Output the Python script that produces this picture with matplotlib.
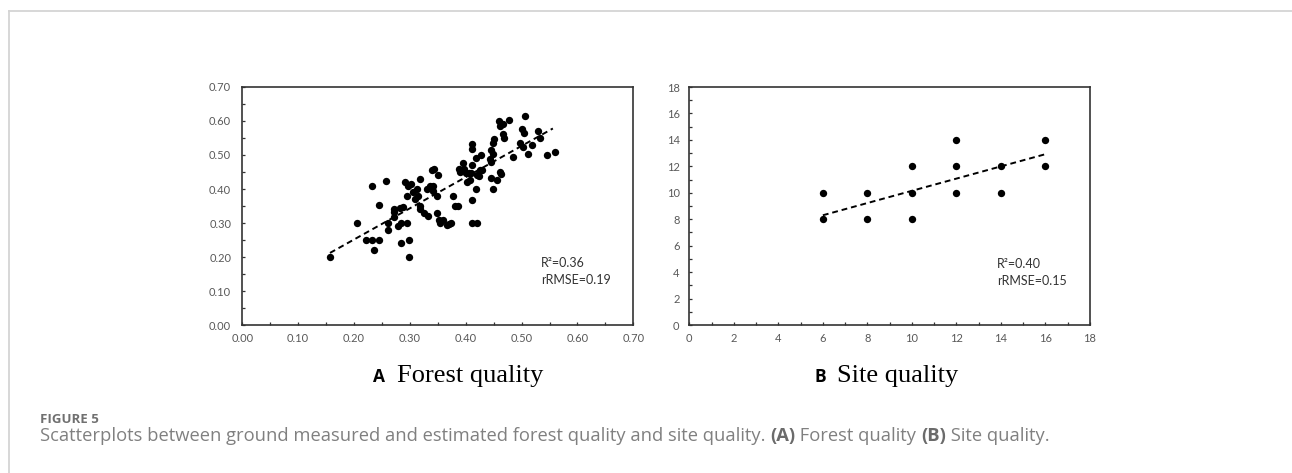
import matplotlib
matplotlib.use("Agg")
from matplotlib import pyplot as plt
from matplotlib.lines import Line2D
from matplotlib.ticker import MultipleLocator, FormatStrFormatter

# panel A: ground measured vs estimated forest quality
forest_x = [0.157, 0.205, 0.222, 0.233, 0.244, 0.235, 0.233, 0.244, 0.257, 0.260,
            0.260, 0.271, 0.272, 0.272, 0.278, 0.285, 0.295, 0.284, 0.299, 0.299,
            0.291, 0.297, 0.282, 0.288, 0.295, 0.302, 0.306, 0.309, 0.312, 0.315,
            0.318, 0.319, 0.318, 0.325, 0.333, 0.330, 0.336, 0.340, 0.343, 0.342,
            0.342, 0.348, 0.351, 0.349, 0.353, 0.354, 0.360, 0.366, 0.370, 0.373,
            0.377, 0.381, 0.387, 0.388, 0.396, 0.397, 0.390, 0.400, 0.405, 0.410,
            0.403, 0.407, 0.412, 0.411, 0.412, 0.412, 0.411, 0.421, 0.418, 0.418,
            0.420, 0.424, 0.425, 0.430, 0.428, 0.443, 0.446, 0.445, 0.449, 0.448,
            0.450, 0.446, 0.456, 0.448, 0.461, 0.463, 0.460, 0.461, 0.466, 0.467,
            0.469, 0.478, 0.484, 0.497, 0.502, 0.500, 0.504, 0.506, 0.511, 0.518,
            0.530, 0.533, 0.546, 0.560]
forest_y = [0.200, 0.300, 0.250, 0.250, 0.250, 0.220, 0.410, 0.354, 0.423, 0.300,
            0.280, 0.333, 0.318, 0.340, 0.290, 0.300, 0.300, 0.240, 0.250, 0.200,
            0.420, 0.410, 0.343, 0.348, 0.380, 0.415, 0.390, 0.370, 0.400, 0.380,
            0.350, 0.428, 0.340, 0.330, 0.320, 0.400, 0.410, 0.455, 0.458, 0.410,
            0.395, 0.380, 0.440, 0.330, 0.310, 0.300, 0.309, 0.294, 0.297, 0.300,
            0.380, 0.350, 0.350, 0.460, 0.475, 0.460, 0.450, 0.447, 0.447, 0.447,
            0.421, 0.425, 0.470, 0.519, 0.531, 0.367, 0.300, 0.300, 0.490, 0.399,
            0.440, 0.438, 0.455, 0.457, 0.500, 0.487, 0.480, 0.516, 0.502, 0.534,
            0.546, 0.431, 0.426, 0.399, 0.450, 0.444, 0.600, 0.585, 0.590, 0.563,
            0.549, 0.602, 0.495, 0.536, 0.524, 0.575, 0.565, 0.614, 0.502, 0.529,
            0.571, 0.549, 0.500, 0.510]
forest_trend_x = [0.157, 0.556]
forest_trend_y = [0.212, 0.578]

# panel B: site quality
site_x = [6, 6, 8, 8, 10, 10, 10, 12, 12, 12, 14, 14, 16, 16]
site_y = [8, 10, 8, 10, 8, 10, 12, 10, 12, 14, 10, 12, 12, 14]
site_trend_x = [6, 16]
site_trend_y = [8.3, 12.92]

stats_a = ["R\u00b2=0.36", "rRMSE=0.19"]
stats_b = ["R\u00b2=0.40", "rRMSE=0.15"]

W, H = 1292, 473
fig = plt.figure(figsize=(W / 100, H / 100), dpi=100)

tick_grey = "#595959"
axis_grey = "#333333"


def style_axes(ax, xmax, major, minor, fmt, ypad):
    ax.set_xlim(0, xmax)
    ax.set_ylim(0, xmax)
    for a in (ax.xaxis, ax.yaxis):
        a.set_major_locator(MultipleLocator(major))
        a.set_minor_locator(MultipleLocator(minor))
        a.set_major_formatter(FormatStrFormatter(fmt))
    ax.tick_params(which="both", direction="in", length=2.5, width=0.9,
                   color=axis_grey, top=False, right=False)
    ax.tick_params(axis="both", labelsize=8, labelcolor=tick_grey)
    ax.tick_params(axis="x", pad=6)
    ax.tick_params(axis="y", pad=ypad)
    for lab in ax.get_xticklabels() + ax.get_yticklabels():
        lab.set_fontfamily("Lato")
    for s in ax.spines.values():
        s.set_color(axis_grey)
        s.set_linewidth(1.2)


ax1 = fig.add_axes([242.3 / W, 148 / H, 391 / W, 238 / H])
ax1.scatter(forest_x, forest_y, s=28, color="black", zorder=3, linewidths=0)
ax1.plot(forest_trend_x, forest_trend_y, color="black", lw=1.4, dashes=(3, 2))
style_axes(ax1, 0.70, 0.10, 0.05, "%.2f", 8)
ax1.text(0.763, 0.259, stats_a[0], transform=ax1.transAxes, fontsize=9,
         family="Lato", color=axis_grey, va="center")
ax1.text(0.763, 0.189, stats_a[1], transform=ax1.transAxes, fontsize=9,
         family="Lato", color=axis_grey, va="center")

ax2 = fig.add_axes([689.3 / W, 148 / H, 400.7 / W, 238 / H])
ax2.scatter(site_x, site_y, s=28, color="black", zorder=3, linewidths=0)
ax2.plot(site_trend_x, site_trend_y, color="black", lw=1.4, dashes=(3, 2))
style_axes(ax2, 18, 2, 1, "%d", 7)
ax2.text(0.767, 0.256, stats_b[0], transform=ax2.transAxes, fontsize=9,
         family="Lato", color=axis_grey, va="center")
ax2.text(0.767, 0.186, stats_b[1], transform=ax2.transAxes, fontsize=9,
         family="Lato", color=axis_grey, va="center")

# panel captions
fig.text(373 / W, 1 - 381.5 / H, "A", fontsize=12.5, family="Open Sans",
         weight="bold", va="baseline")
fig.text(397 / W, 1 - 381.5 / H, "Forest quality", fontsize=19,
         family="Liberation Serif", va="baseline")
fig.text(815 / W, 1 - 381.5 / H, "B", fontsize=12.5, family="Open Sans",
         weight="bold", va="baseline")
fig.text(837 / W, 1 - 381.5 / H, "Site quality", fontsize=19,
         family="Liberation Serif", va="baseline")

# figure caption
fig.text(40 / W, 1 - 422.5 / H, "FIGURE 5", fontsize=9.5, family="Open Sans",
         weight="bold", color="#707070", va="baseline")
pieces = [("Scatterplots between ground measured and estimated forest quality and site quality. ", "normal"),
          ("(A)", "bold"), (" Forest quality ", "normal"), ("(B)", "bold"), (" Site quality.", "normal")]
fig.canvas.draw()
renderer = fig.canvas.get_renderer()
x = 40
for txt, wt in pieces:
    t = fig.text(x / W, 1 - 441 / H, txt, fontsize=13.2, family="Open Sans",
                 weight=wt, color="#6b6b6b" if wt == "bold" else "#808080",
                 va="baseline")
    x += t.get_window_extent(renderer).width

# page frame
fig.add_artist(Line2D([9 / W, 9 / W], [0, 1 - 11 / H], color="#d4d4d4", lw=1.3))
fig.add_artist(Line2D([9 / W, 1], [1 - 11 / H, 1 - 11 / H], color="#d4d4d4", lw=1.3))

fig.savefig("out.png", dpi=100)
